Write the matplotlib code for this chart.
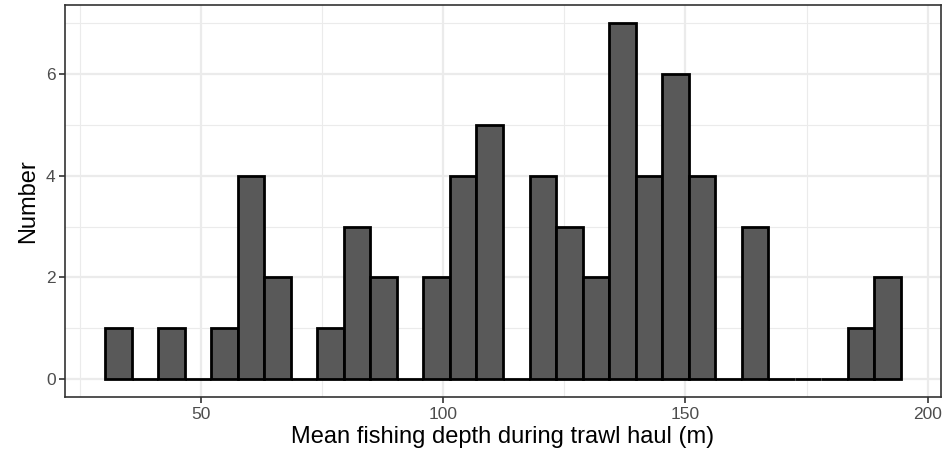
import matplotlib.pyplot as plt
from matplotlib.ticker import MultipleLocator

plt.rcParams['font.family'] = ['Liberation Sans', 'DejaVu Sans']

# histogram: 30 bins of equal width
bin_start = 30.1
bin_width = 5.48
counts = [1, 0, 1, 0, 1, 4, 2, 0, 1, 3, 2, 0, 2, 4, 5,
          0, 4, 3, 2, 7, 4, 6, 4, 0, 3, 0, 0, 0, 1, 2]
lefts = [bin_start + i * bin_width for i in range(len(counts))]

fig = plt.figure(figsize=(9.48, 4.62), dpi=100)
ax = fig.add_axes([65.3 / 948, 1 - 397 / 462, (940.7 - 65.3) / 948, (397 - 5.3) / 462])

ax.bar(lefts, counts, width=bin_width, align='edge', color='#595959',
       edgecolor='black', linewidth=2, zorder=3)

xmin, xmax = bin_start, bin_start + bin_width * len(counts)
pad = (xmax - xmin) * 0.05
ax.set_xlim(xmin - pad, xmax + pad)
ax.set_ylim(-0.35, 7.35)

ax.xaxis.set_major_locator(MultipleLocator(50))
ax.xaxis.set_minor_locator(MultipleLocator(25))
ax.yaxis.set_major_locator(MultipleLocator(2))
ax.yaxis.set_minor_locator(MultipleLocator(1))

ax.grid(which='major', color='#EBEBEB', linewidth=1.6, zorder=0)
ax.grid(which='minor', color='#EBEBEB', linewidth=0.8, zorder=0)
ax.set_axisbelow(True)

for s in ax.spines.values():
    s.set_color('#333333')
    s.set_linewidth(1.2)

ax.tick_params(which='major', length=4, width=1.2, color='#333333',
               labelcolor='#4D4D4D', labelsize=12.5, pad=3)
ax.tick_params(which='minor', length=0)

ax.set_xlabel('Mean fishing depth during trawl haul (m)', fontsize=17,
              color='black', labelpad=3)
ax.set_ylabel('Number', fontsize=17, color='black', labelpad=5)

fig.savefig('out.png', dpi=100)
